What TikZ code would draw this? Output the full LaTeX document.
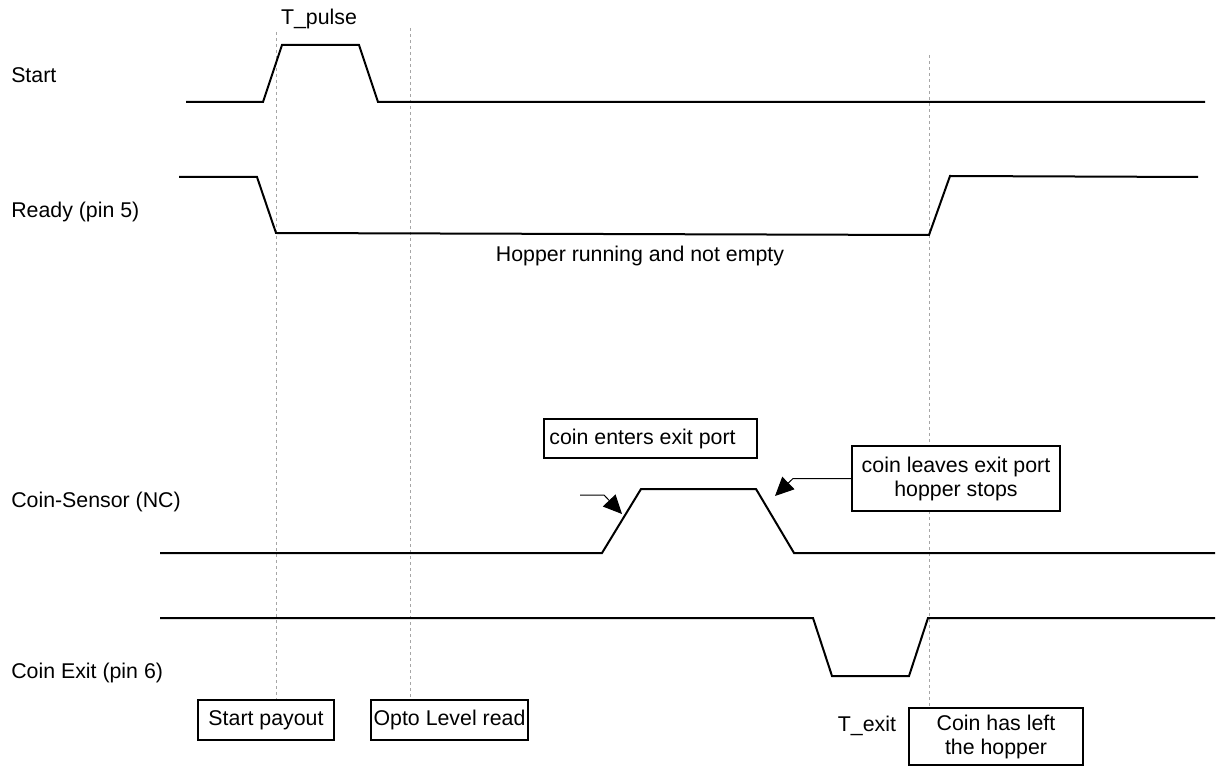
\documentclass[tikz,border=0pt]{standalone}
\usepackage{fontspec}
\setmainfont{Liberation Sans}
\usetikzlibrary{arrows.meta}

\tikzset{
    wave/.style={line width=1.5pt, line join=miter},
    marker/.style={gray!70, line width=0.75pt, dash pattern=on 2.5pt off 2pt},
    note/.style={draw, line width=1.5pt, fill=white, inner sep=0pt, align=center},
    pointer/.style={line width=0.75pt, -{Triangle[length=14pt,width=13pt]}},
    signame/.style={anchor=base west, inner sep=0pt}
}

\begin{document}
\begin{tikzpicture}[x=0.75pt, y=-0.75pt, font=\fontsize{16}{18}\selectfont]

    \useasboundingbox (0,0) rectangle (1217,766);

    \def \startlo{102};
    \def \starthi{45};
    \def \readyhi{177};
    \def \readylo{234};
    \def \senslo{553};
    \def \senshi{489};
    \def \exithi{618};
    \def \exitlo{676};

    % time markers
    \foreach \x/\top/\bot in {276/32/700, 410/28/700, 929/55/708} {
        \draw[marker] (\x,\top) -- (\x,\bot);
    }

    % signal names
    \node[signame] (nstart) at (11,83) {Start};
    \node[signame] (nready) at (11,218) {Ready (pin 5)};
    \node[signame] (nsens) at (11,507) {Coin-Sensor (NC)};
    \node[signame] (nexit) at (11,678) {Coin Exit (pin 6)};

    % start line
    \draw[wave] (186,\startlo) -- (263,\startlo) -- (282,\starthi) -- (359,\starthi)
        -- (378,\startlo) -- (1205,\startlo);
    \node[anchor=base, inner sep=0pt] (tpulse) at (319,25) {T\_pulse};

    % ready line
    \draw[wave] (179,\readyhi) -- (257,\readyhi) -- (276,233) -- (929,235)
        -- (950,176) -- (1198,\readyhi);
    \node[anchor=base, inner sep=0pt] (running) at (640,262) {Hopper running and not empty};

    % coin sensor line
    \draw[wave] (160,\senslo) -- (602,\senslo) -- (641,\senshi) -- (756,\senshi)
        -- (794,\senslo) -- (1215,\senslo);

    % coin exit line
    \draw[wave] (160,\exithi) -- (813,\exithi) -- (832,\exitlo) -- (909,\exitlo)
        -- (928,\exithi) -- (1215,\exithi);

    % notes
    \node[note, minimum width=159.75pt, minimum height=29.25pt] (enters) at (650.5,438.5) {coin enters exit port\hspace{12pt}};
    \node[note, minimum width=156pt, minimum height=48.75pt] (leaves) at (956,478.5) {coin leaves exit port\\hopper stops};
    \node[note, minimum width=102pt, minimum height=30pt] (payout) at (266,720) {Start payout};
    \node[note, minimum width=117.75pt, minimum height=30pt] (opto) at (449.5,720) {Opto Level read};
    \node[note, minimum width=130.5pt, minimum height=42.75pt] (left) at (996,736.5) {Coin has left\\the hopper};
    \node[anchor=base, inner sep=0pt] (texit) at (867,731) {T\_exit};

    % pointers
    \coordinate (entertail) at (580,495);
    \coordinate (enterbend) at (604,495);
    \coordinate (entertip) at (622,514);
    \draw[pointer] (entertail) -- (enterbend) -- (entertip);

    \coordinate (leavesbend) at (793,478.5);
    \coordinate (leavestip) at (775,496);
    \draw[pointer] (leaves.west) -- (leavesbend) -- (leavestip);

\end{tikzpicture}
\end{document}
